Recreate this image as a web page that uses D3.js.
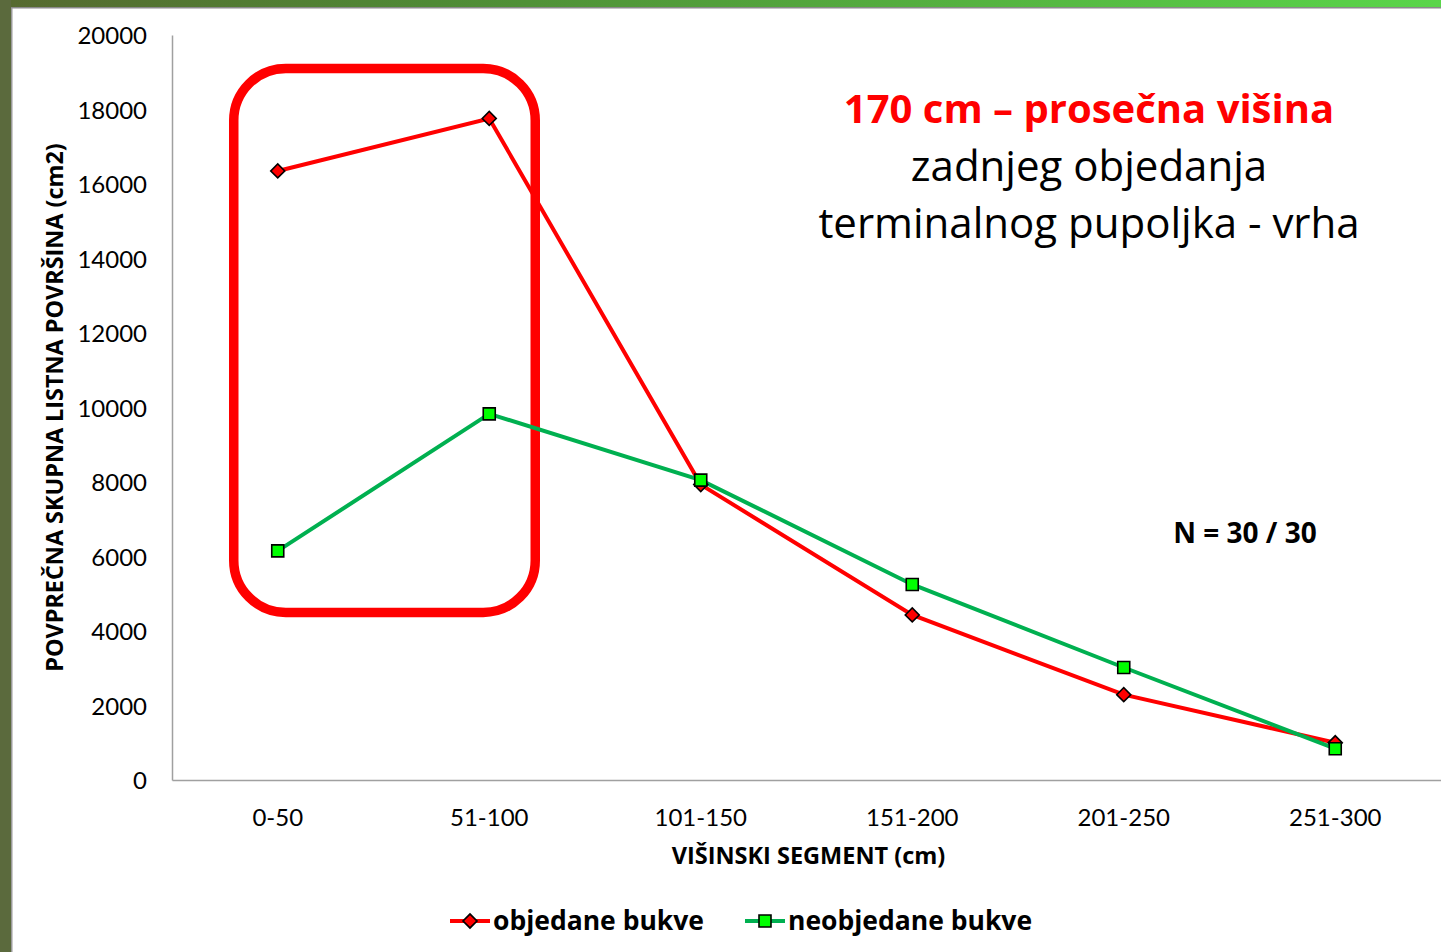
<!DOCTYPE html>
<meta charset="utf-8">
<html>
<head>
    <title>Listna povrsina</title>
</head>
<style type="text/css">
    body{
        margin: 0;
        background: #fff;
    }
    text{
        font-family: "Open Sans", Lato, sans-serif;
    }
</style>
<script src="https://cdn.jsdelivr.net/npm/d3@7"></script>
<body>

<script type="text/javascript">
// data
var segments = ["0-50", "51-100", "101-150", "151-200", "201-250", "251-300"]
var objedane = [16350, 17760, 7930, 4430, 2290, 1000]
var neobjedane = [6150, 9830, 8050, 5250, 3020, 840]
var yTicks = [0, 2000, 4000, 6000, 8000, 10000, 12000, 14000, 16000, 18000, 20000]
var seriesNames = ["objedane bukve", "neobjedane bukve"]

var svgWidth = 1441
var svgHeight = 952
var margin = {top: 35, right: 0, bottom: 172, left: 172}
var width = svgWidth - margin.left - margin.right
var height = svgHeight - margin.top - margin.bottom

var svg = d3.select("body")
    .append("svg")
    .attr("width", svgWidth)
    .attr("height", svgHeight)

// slide frame: green bar on top, olive strip on the left
var defs = svg.append("defs")
var grad = defs.append("linearGradient").attr("id", "topbar")
grad.append("stop").attr("offset", "0%").attr("stop-color", "#56692f")
grad.append("stop").attr("offset", "30%").attr("stop-color", "#4f8a35")
grad.append("stop").attr("offset", "100%").attr("stop-color", "#5ad64a")

svg.append("rect").attr("x", 0).attr("y", 0).attr("width", svgWidth).attr("height", 7)
    .attr("fill", "url(#topbar)")
svg.append("rect").attr("x", 0).attr("y", 7).attr("width", svgWidth).attr("height", 1.5)
    .attr("fill", "#8a8a8a")
svg.append("rect").attr("x", 0).attr("y", 0).attr("width", 11).attr("height", svgHeight)
    .attr("fill", "#5b6a3d")
svg.append("rect").attr("x", 11).attr("y", 8).attr("width", 1.5).attr("height", svgHeight)
    .attr("fill", "#9a9a9a")

var x = d3.scaleBand().domain(segments).range([0, width]).padding(0)
var y = d3.scaleLinear().domain([0, 20000]).range([height, 0])

var g = svg.append("g")
    .attr("transform", "translate(" + margin.left + "," + margin.top + ")")

var xAxis = d3.axisBottom(x).tickSize(0).tickPadding(29)
var yAxis = d3.axisLeft(y).tickValues(yTicks).tickFormat(d3.format("d")).tickSize(0).tickPadding(25)

g.append("g")
    .attr("class", "axis axis--x")
    .attr("transform", "translate(0," + height + ")")
    .call(xAxis)

g.append("g")
    .attr("class", "axis axis--y")
    .call(yAxis)

svg.selectAll(".axis path.domain").attr("stroke", "#a0a0a0").attr("stroke-width", 1.5)
svg.selectAll(".axis text")
    .attr("fill", "#000")
    .style("font-size", "24px")
    .style("font-family", "Lato, sans-serif")
svg.selectAll(".axis--y text").attr("dy", "0.36em")

// axis titles
svg.append("text")
    .attr("transform", "translate(63," + (margin.top + height / 2) + ") rotate(-90)")
    .attr("text-anchor", "middle")
    .style("font-size", "23.4px")
    .style("font-weight", "bold")
    .text("POVPREČNA SKUPNA LISTNA POVRŠINA (cm2)")

svg.append("text")
    .attr("x", margin.left + width / 2 + 2)
    .attr("y", 864)
    .attr("text-anchor", "middle")
    .style("font-size", "23.5px")
    .style("font-weight", "bold")
    .text("VIŠINSKI SEGMENT (cm)")

// highlight box around the first two segments
var bx0 = x("0-50") + x.bandwidth() / 2 - 44
var bx1 = x("51-100") + x.bandwidth() / 2 + 46
var by0 = y(19100)
var by1 = y(4500)
g.append("rect")
    .attr("x", bx0).attr("y", by0)
    .attr("width", bx1 - bx0).attr("height", by1 - by0)
    .attr("rx", 52).attr("ry", 52)
    .attr("fill", "none")
    .attr("stroke", "#ff0000")
    .attr("stroke-width", 9.5)

var series = [
    {name: seriesNames[0], values: objedane, color: "#ff0000", marker: "diamond", fill: "#ff0000"},
    {name: seriesNames[1], values: neobjedane, color: "#00b050", marker: "square", fill: "#00ff00"}
]

var line = d3.line()
    .x((d, i) => x(segments[i]) + x.bandwidth() / 2)
    .y(d => y(d))

var diamond = d3.symbol().type(d3.symbolSquare).size(98)
var square = d3.symbol().type(d3.symbolSquare).size(144)

series.forEach(s => {
    g.append("path")
        .datum(s.values)
        .attr("d", line)
        .attr("fill", "none")
        .attr("stroke", s.color)
        .attr("stroke-width", 4)
})

series.forEach(s => {
    g.selectAll(".pt-" + s.marker)
        .data(s.values)
        .enter()
        .append("path")
        .attr("class", "pt-" + s.marker)
        .attr("d", s.marker == "diamond" ? diamond : square)
        .attr("transform", (d, i) => "translate(" + (x(segments[i]) + x.bandwidth() / 2) + "," + y(d) + ")" +
            (s.marker == "diamond" ? " rotate(45)" : ""))
        .attr("fill", s.fill)
        .attr("stroke", "#000")
        .attr("stroke-width", 1.6)
})

// annotation text
var note = svg.append("text")
    .attr("text-anchor", "middle")
    .style("font-size", "42px")
note.append("tspan").attr("x", 1089).attr("y", 123)
    .attr("fill", "#ff0000").style("font-weight", "bold").style("font-size", "40px")
    .text("170 cm – prosečna višina")
note.append("tspan").attr("x", 1089).attr("y", 181)
    .text("zadnjeg objedanja")
note.append("tspan").attr("x", 1089).attr("y", 238)
    .text("terminalnog pupoljka - vrha")

svg.append("text")
    .attr("x", 1245)
    .attr("y", 543)
    .attr("text-anchor", "middle")
    .style("font-size", "28px")
    .style("font-weight", "bold")
    .text("N = 30 / 30")

// legend
var legendX = [450, 745]
var legend = svg.selectAll(".legend")
    .data(series)
    .enter()
    .append("g")
    .attr("class", "legend")
    .attr("transform", (d, i) => "translate(" + legendX[i] + ",921)")

legend.append("line")
    .attr("x1", 0).attr("x2", 40)
    .attr("y1", 0).attr("y2", 0)
    .attr("stroke", d => d.color)
    .attr("stroke-width", 4)

legend.append("path")
    .attr("d", d => d.marker == "diamond" ? diamond() : square())
    .attr("transform", d => "translate(20,0)" + (d.marker == "diamond" ? " rotate(45)" : ""))
    .attr("fill", d => d.fill)
    .attr("stroke", "#000")
    .attr("stroke-width", 1.6)

legend.append("text")
    .attr("x", 43)
    .attr("y", 0)
    .attr("dy", "0.35em")
    .style("font-size", "26.5px")
    .style("font-weight", "bold")
    .text(d => d.name)
</script>
</body>
</html>
